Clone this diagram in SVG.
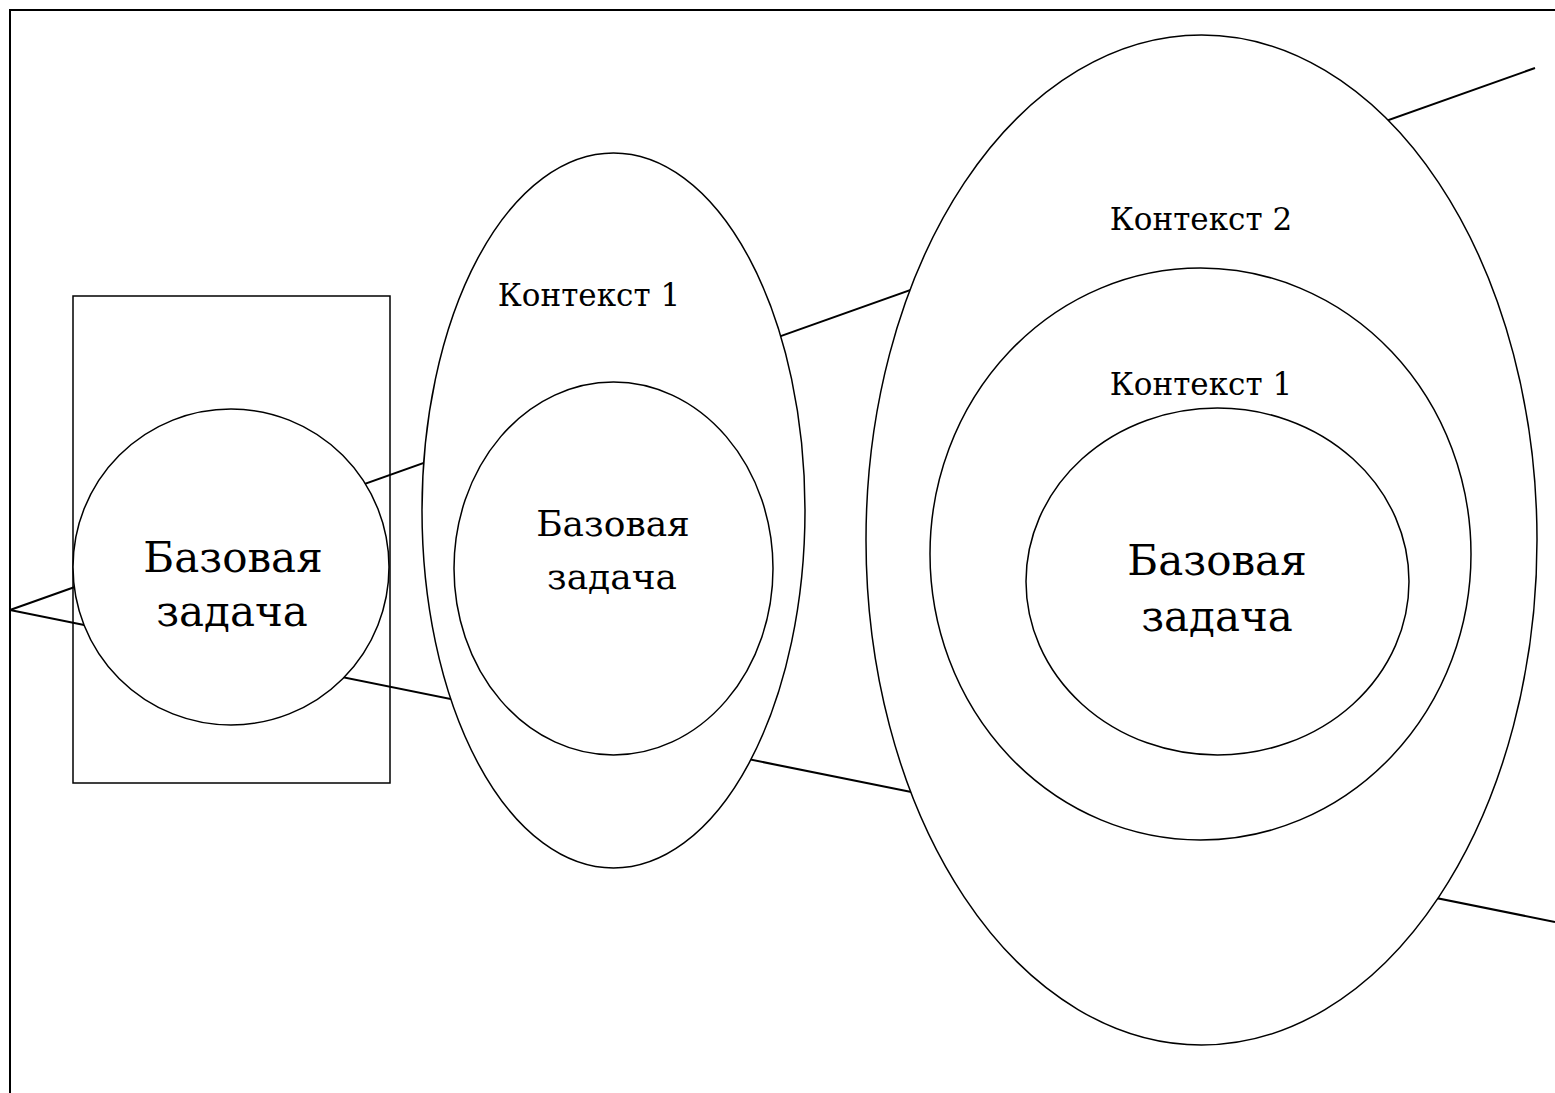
<svg xmlns="http://www.w3.org/2000/svg" width="1555" height="1093" viewBox="0 0 1555 1093">
<style>
.sh{fill:#fff;stroke:#000;stroke-width:1.5}
.ln{fill:none;stroke:#000;stroke-width:2}
.t{font-family:"DejaVu Serif","Liberation Serif",serif;text-anchor:middle;fill:#000}
.big{font-size:42px}
.mid{font-size:36px}
.sm{font-size:31px}
</style>
<rect width="1555" height="1093" fill="#fff"/>
<g id="frame">
<path class="ln" d="M10 1093 V10 H1555" stroke-width="2.5"/>
</g>
<g id="box">
<rect x="73" y="296" width="317" height="487" fill="none" stroke="#000" stroke-width="1.5"/>
</g>
<g id="connectors">
<line class="ln" x1="10" y1="610" x2="1535" y2="68"/>
<line class="ln" x1="10" y1="610" x2="1555" y2="922"/>
</g>
<g id="base1">
<circle class="sh" cx="231" cy="567" r="158"/>
<text class="t big" x="233" y="572">Базовая</text>
<text class="t big" x="232" y="626">задача</text>
</g>
<g id="context1">
<ellipse class="sh" cx="613.5" cy="510.5" rx="191.5" ry="357.5"/>
<text class="t sm" x="589" y="306">Контекст 1</text>
</g>
<g id="base2">
<ellipse class="sh" cx="613.5" cy="568.5" rx="159.5" ry="186.5"/>
<text class="t mid" x="613" y="536">Базовая</text>
<text class="t mid" x="612" y="589">задача</text>
</g>
<g id="context2">
<ellipse class="sh" cx="1201.5" cy="540" rx="335.5" ry="505"/>
<text class="t sm" x="1201" y="230">Контекст 2</text>
</g>
<g id="context1b">
<ellipse class="sh" cx="1200.5" cy="554" rx="270.5" ry="286"/>
<text class="t sm" x="1201" y="395">Контекст 1</text>
</g>
<g id="base3">
<ellipse class="sh" cx="1217.5" cy="581.5" rx="191.5" ry="173.5"/>
<text class="t big" x="1217" y="575">Базовая</text>
<text class="t big" x="1217" y="631">задача</text>
</g>
</svg>
